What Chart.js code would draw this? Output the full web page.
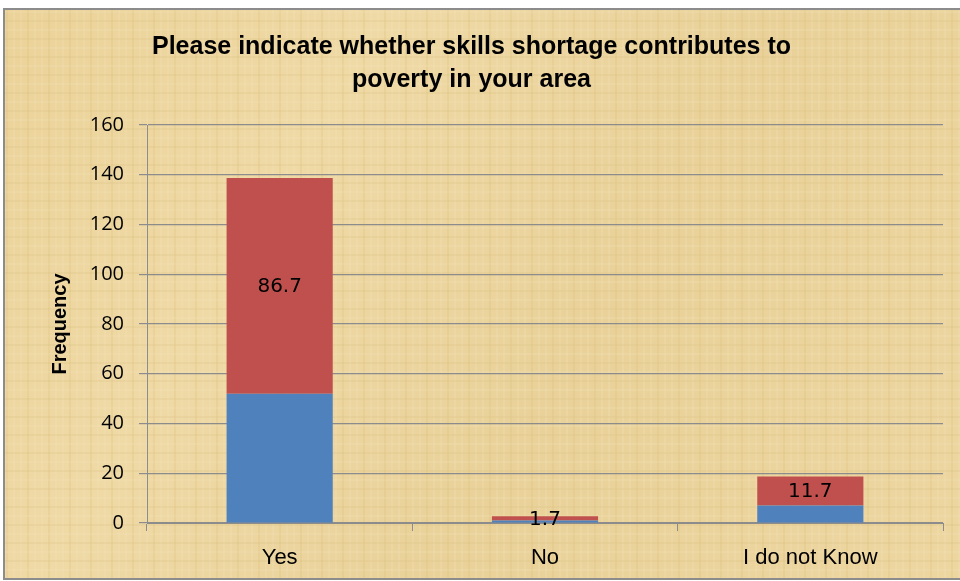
<!DOCTYPE html>
<html>
<head>
<meta charset="utf-8">
<title>Skills shortage and poverty</title>
<script src="https://cdn.jsdelivr.net/npm/chart.js@4.4.1/dist/chart.umd.min.js"></script>
<style>
    html, body { margin: 0; padding: 0; background: #ffffff; }
    #chart { display: block; }
</style>
</head>
<body>
<canvas id="chart" width="960" height="581"></canvas>
<script>
// =============================================
// DATA
// =============================================

const categories   = ["Yes", "No", "I do not Know"];
const frequency    = [52, 1, 7];          // blue segment
const percentages  = [86.7, 1.7, 11.7];   // red segment (labelled)
const yTicks       = [0, 20, 40, 60, 80, 100, 120, 140, 160];

const titleLines = [
    "Please indicate whether skills shortage contributes to",
    "poverty in your area"
];

// =============================================
// PLUGINS
// =============================================

// parchment background + outer frame
const parchment = {
    id: "parchment",
    beforeDraw(chart) {
        const c = chart.ctx;
        const w = chart.width, h = chart.height;
        c.save();
        c.fillStyle = "#ffffff";
        c.fillRect(0, 0, w, h);

        const g = c.createLinearGradient(0, 0, w, h);
        g.addColorStop(0, "#ebd298");
        g.addColorStop(0.3, "#efd9a5");
        g.addColorStop(0.6, "#e9d199");
        g.addColorStop(1, "#edd6a0");
        c.fillStyle = g;
        c.fillRect(4, 9, w - 4, h - 11);

        // faint fibre stripes
        c.globalAlpha = 0.2;
        for (let x = 6; x < w; x += 7) {
            c.fillStyle = (x % 3 === 0) ? "#d6b874" : "#f7e8c4";
            c.fillRect(x, 9, 2, h - 11);
        }
        for (let y = 11; y < h; y += 9) {
            c.fillStyle = (y % 2 === 0) ? "#d9bd7f" : "#f6e6c0";
            c.fillRect(4, y, w - 4, 2);
        }
        c.restore();

        c.save();
        c.strokeStyle = "#8c8c8c";
        c.lineWidth = 2;
        c.strokeRect(4, 9, w + 10, h - 11);
        c.restore();
    }
};

// value labels centred on the red segments
const segmentLabels = {
    id: "segmentLabels",
    afterDatasetsDraw(chart) {
        const c = chart.ctx;
        const meta = chart.getDatasetMeta(1);
        c.save();
        c.font = "20px 'DejaVu Sans'";
        c.fillStyle = "#000000";
        c.textAlign = "center";
        c.textBaseline = "middle";
        meta.data.forEach((bar, i) => {
            const mid = (bar.y + bar.base) / 2;
            c.fillText(percentages[i].toFixed(1), bar.x, mid + 1);
        });
        c.restore();
    }
};

// =============================================
// CHART
// =============================================

new Chart(document.getElementById("chart"), {

    type: "bar",

    data: {
        labels: categories,
        datasets: [
            {
                label: "Frequency",
                data: frequency,
                backgroundColor: "#4f81bd",
                barPercentage: 0.4,
                categoryPercentage: 1.0
            },
            {
                label: "Percent",
                data: percentages,
                backgroundColor: "#c0504d",
                barPercentage: 0.4,
                categoryPercentage: 1.0
            }
        ]
    },

    options: {
        responsive: false,
        animation: false,
        layout: { padding: { left: 0, right: 17, top: 0, bottom: 0 } },
        plugins: {
            legend: { display: false },
            tooltip: { enabled: false },
            title: {
                display: true,
                text: titleLines,
                color: "#000000",
                font: { family: "'Liberation Sans', Arial", size: 25, weight: "bold", lineHeight: 1.32 },
                padding: { top: 31, bottom: 28 }
            }
        },
        scales: {
            x: {
                stacked: true,
                grid: {
                    drawOnChartArea: false,
                    drawTicks: true,
                    tickLength: 8,
                    color: "#8c8c8c",
                    offset: true
                },
                border: { color: "#8c8c8c", width: 1 },
                ticks: {
                    color: "#000000",
                    font: { family: "'Liberation Sans', Arial", size: 22 },
                    padding: 14
                },
                afterFit(scale) { scale.height = 58; }
            },
            y: {
                stacked: true,
                min: 0,
                max: 160,
                afterBuildTicks(scale) {
                    scale.ticks = yTicks.map(v => ({ value: v }));
                },
                grid: {
                    color: "#8c8c8c",
                    lineWidth: 1.2,
                    tickLength: 8
                },
                border: { color: "#8c8c8c", width: 1 },
                ticks: {
                    color: "#000000",
                    font: { family: "'Open Sans'", size: 20 },
                    padding: 15
                },
                title: {
                    display: true,
                    text: "Frequency",
                    color: "#000000",
                    font: { family: "'Liberation Sans', Arial", size: 20, weight: "bold" },
                    padding: { top: 48, bottom: 0 }
                },
                afterFit(scale) { scale.width = 147; }
            }
        }
    },

    plugins: [parchment, segmentLabels]

});
</script>
</body>
</html>
